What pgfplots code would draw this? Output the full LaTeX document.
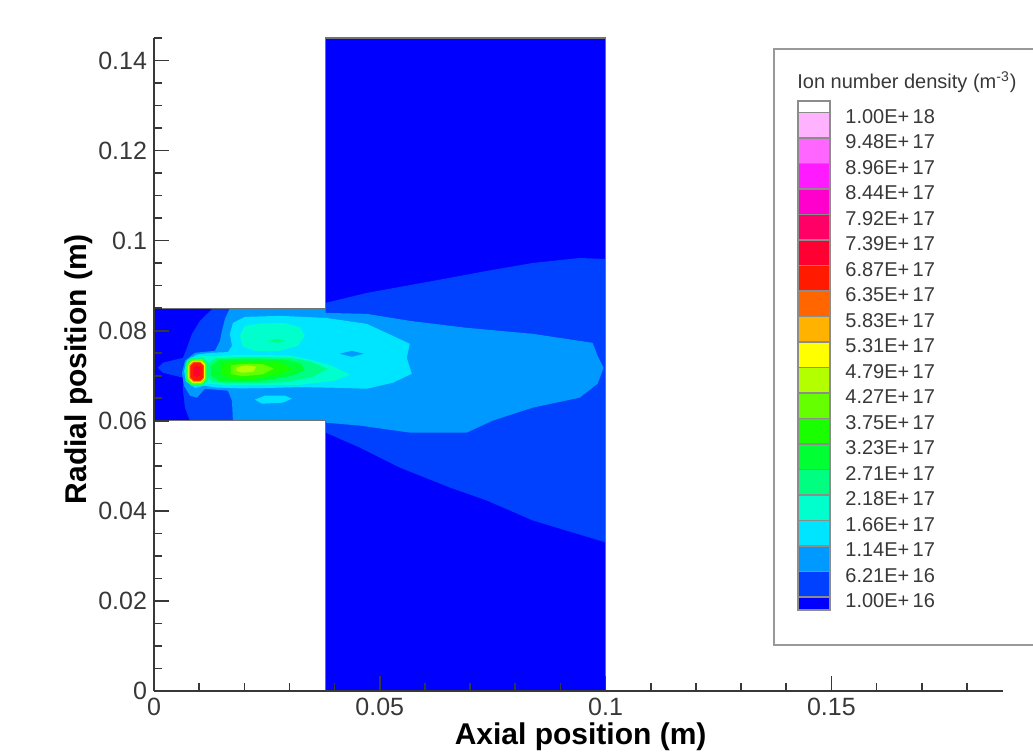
\documentclass[border=0pt]{standalone}
\usepackage{fontspec}
\setmainfont{Liberation Sans}
\usepackage{pgfplots}
\pgfplotsset{compat=1.18}
% contour level colours, low to high
\definecolor{lv0}{HTML}{0000FF}
\definecolor{lv1}{HTML}{0040FF}
\definecolor{lv2}{HTML}{0099FF}
\definecolor{lv3}{HTML}{00E5FF}
\definecolor{lv4}{HTML}{00FFCC}
\definecolor{lv5}{HTML}{00FF80}
\definecolor{lv6}{HTML}{00FF33}
\definecolor{lv7}{HTML}{1AFF00}
\definecolor{lv8}{HTML}{66FF00}
\definecolor{lv9}{HTML}{B3FF00}
\definecolor{lv10}{HTML}{FFFF00}
\definecolor{lv11}{HTML}{FFB300}
\definecolor{lv12}{HTML}{FF6600}
\definecolor{lv13}{HTML}{FF1A00}
\definecolor{lv14}{HTML}{FF0033}
\definecolor{lv15}{HTML}{FF0066}
\definecolor{lv16}{HTML}{FF00CC}
\definecolor{lv17}{HTML}{FF1AFF}
\definecolor{lv18}{HTML}{FF66FF}
\definecolor{lv19}{HTML}{FFB3FF}
\definecolor{axgray}{HTML}{383838}

\begin{document}
\begin{tikzpicture}
\begin{axis}[at={(0,0)}, anchor=south west, scale only axis,
  width=424.5pt, height=326.5pt,
  xmin=0, xmax=188, ymin=0, ymax=145,
  axis lines*=left, axis line style={axgray, line width=1pt},
  axis on top,
  xtick={0,50,100,150}, xticklabels={0,0.05,0.1,0.15},
  minor xtick={10,20,30,40,60,70,80,90,110,120,130,140,160,170,180},
  ytick={0,20,40,60,80,100,120,140},
  yticklabels={0,0.02,0.04,0.06,0.08,0.1,0.12,0.14},
  minor ytick={5,10,15,25,30,35,45,50,55,65,70,75,85,90,95,105,110,115,125,130,135,145},
  tick align=inside, major tick length=7.5pt, minor tick length=4.2pt,
  every tick/.style={axgray, line width=0.8pt},
  ticklabel style={font=\fontsize{12.5}{14}\selectfont, text=axgray},
  xlabel={Axial position (m)}, ylabel={Radial position (m)},
  xlabel style={font=\fontsize{15}{18}\selectfont\bfseries,
    at={(axis description cs:0.5025,-0.0704)}, anchor=center},
  ylabel style={font=\fontsize{15}{18}\selectfont\bfseries,
    at={(axis description cs:-0.0883,0.493)}, anchor=center},
]
% background (lowest level) over the channel and the plume region
\addplot[draw=none, fill=lv0] coordinates {(0,60)(38,60)(38,0)(100,0)(100,145)(38,145)(38,85)(0,85)} -- cycle;
% 6.21E+16
\addplot[draw=none, fill=lv1] coordinates {(13.05,85)(38,85)(38,86.18)(47.12,88.39)(61.73,91.05)(73.67,93.27)
  (83.85,95.04)(94.25,96.15)(100,95.92)(100,33.01)(91.15,35.67)(83.85,37.88)(73.67,42.31)(65.49,45.19)
  (54.42,49.62)(45.58,54.05)(38,57.38)(38,60)(7.96,60)(6.86,62.92)(6.42,66.68)(6.42,69.56)(1.99,70.67)
  (0.88,71.78)(1.99,72.89)(6.42,73.99)(7.30,76.21)(8.41,79.31)(10.18,82.19)} -- cycle;
% 1.14E+17
\addplot[draw=none, fill=lv2] coordinates {(16.81,85)(38,85)(38,83.96)(47.12,83.74)(56.64,82.19)(69.25,80.64)
  (83.85,79.31)(97.12,77.31)(98.23,74.43)(99.56,71.78)(98.23,68.23)(94.25,65.13)(83.85,62.92)(75,60.04)
  (69.25,57.38)(61.73,57.38)(56.64,57.38)(45.58,58.93)(38,59.59)(38,60)(17.48,60)(17.26,64.47)(16.37,66.68)
  (11.28,67.12)(9.51,65.13)(7.96,65.57)(6.64,67.79)(6.19,70.67)(6.86,73.33)(9.07,75.10)(13.50,75.54)
  (14.60,77.76)(15.04,79.97)(15.71,82.63)} -- cycle;
% 1.66E+17
\addplot[draw=none, fill=lv3] coordinates {(17.48,81.75)(20.13,83.07)(27.88,83.30)(38,82.85)(47.12,81.52)
  (52.88,78.86)(56.64,77.09)(55.97,73.99)(57.08,70.45)(52.88,68.45)(47.12,67.12)(39.60,67.35)(32.30,67.5)
  (25.66,67.3)(19.03,67.2)(13.50,67.4)(11.28,67.8)(9.07,67.3)(7.10,68.7)(6.66,71.11)(7.32,73.5)
  (9.51,74.7)(12.39,75.1)(16.37,75.25)(17.26,76.65)(16.81,79.31)} -- cycle;
\addplot[draw=none, fill=lv2] coordinates {(41.15,74.88)(43.81,75.54)(46.46,74.88)(43.81,74.21)} -- cycle;
\addplot[draw=none, fill=lv3] coordinates {(22.35,64.69)(24.56,65.57)(28.98,65.57)(30.53,64.91)(28.54,64.02)(23.89,63.80)} -- cycle;
% 2.18E+17
\addplot[draw=none, fill=lv4] coordinates {(19.03,78.86)(20.13,81.08)(23.45,81.6)(28.98,81.7)(32.30,80.8)
  (33.41,78.86)(31.86,76.65)(27.88,75.54)(22.35,75.54)(19.69,76.43)} -- cycle;
\addplot[draw=none, fill=lv4] coordinates {(7.52,72.22)(8.41,74.0)(10.84,74.4)(13.50,74.3)(16.81,74.55)
  (23.45,74.6)(30.09,74.5)(34.51,73.6)(38.94,72.4)(43.36,70.23)(40.04,68.9)(32.30,68.0)(23.45,67.9)
  (15.71,67.95)(12.39,68.2)(10.18,67.9)(8.19,68.7)} -- cycle;
% 2.71E+17
\addplot[draw=none, fill=lv5] coordinates {(11.73,72.5)(13.50,73.9)(17.92,74.1)(23.45,74.15)(30.09,73.99)
  (34.51,73.2)(38.50,71.56)(34.96,69.7)(28.98,68.6)(22.35,68.3)(16.81,68.3)(12.83,68.6)(11.73,70.0)} -- cycle;
\addplot[draw=none, fill=lv5] coordinates {(25.22,77.76)(27.21,78.20)(29.20,77.76)(27.21,77.31)} -- cycle;
% 3.23E+17 and up, streak downstream of the hot spot
\addplot[draw=none, fill=lv6] coordinates {(12.6,72.3)(14.5,73.6)(17.92,73.77)(23.45,73.8)(28.98,73.6)
  (32.5,72.8)(33.4,71.3)(30.5,70.0)(25.0,69.0)(19.0,68.6)(14.5,68.8)(12.6,70.0)} -- cycle;
\addplot[draw=none, fill=lv7] coordinates {(15.0,72.6)(17.92,73.2)(23.45,73.25)(28.0,72.9)(30.5,71.6)
  (27.5,70.2)(22.0,69.3)(17.0,69.3)(15.0,70.2)} -- cycle;
\addplot[draw=none, fill=lv8] coordinates {(17.0,72.3)(20.0,72.66)(24.0,72.6)(26.5,71.6)(24.0,70.3)(19.5,69.9)(17.0,70.4)} -- cycle;
\addplot[draw=none, fill=lv9] coordinates {(18.3,71.9)(20.5,72.33)(22.6,72.0)(22.0,70.9)(19.5,70.67)(18.3,71.1)} -- cycle;
% hot spot
\addplot[draw=none, fill=lv5] coordinates {(7.0,72.9)(8.2,74.1)(10.8,74.1)(11.95,72.9)(11.95,69.0)(10.8,67.8)(8.2,67.8)(7.0,69.0)} -- cycle;
\addplot[draw=none, fill=lv8] coordinates {(7.3,72.6)(8.4,73.7)(10.6,73.7)(11.6,72.6)(11.6,69.2)(10.6,68.1)(8.4,68.1)(7.3,69.2)} -- cycle;
\addplot[draw=none, fill=lv10] coordinates {(7.63,72.4)(8.6,73.33)(10.4,73.33)(11.28,72.4)(11.28,69.4)(10.4,68.45)(8.6,68.45)(7.63,69.4)} -- cycle;
\addplot[draw=none, fill=lv12] coordinates {(7.85,72.3)(8.7,73.11)(10.3,73.11)(11.06,72.3)(11.06,69.5)(10.3,68.68)(8.7,68.68)(7.85,69.5)} -- cycle;
\addplot[draw=none, fill=lv13] coordinates {(8.08,72.1)(8.8,72.9)(10.2,72.9)(10.95,72.1)(10.95,69.7)(10.2,68.9)(8.8,68.9)(8.08,69.7)} -- cycle;
\addplot[draw=none, fill=lv14] coordinates {(8.8,71.8)(9.4,72.3)(10.2,71.8)(10.2,70.2)(9.5,69.6)(8.8,70.2)} -- cycle;
% domain outline
\addplot[draw=black!55, line width=0.6pt] coordinates {(0,85)(38,85)(38,145)(100,145)(100,0)};
\addplot[draw=black!55, line width=0.6pt] coordinates {(0,60)(38,60)(38,0)};
\end{axis}
% legend, in pixel units of the reference
\begin{scope}[shift={(-77pt,345.5pt)}, x=0.5pt, y=-0.5pt]
  \draw[black!40, line width=1pt] (774,49) rectangle (1045,645);
  \node[anchor=west, inner sep=0pt, text=axgray, font=\fontsize{10}{12}\selectfont] at (797,82)
    {Ion number density (m\textsuperscript{-3})};
  \fill[white] (798,101) rectangle (830,112.5);
  \foreach \c [count=\i from 0] in {lv19,lv18,lv17,lv16,lv15,lv14,lv13,lv12,lv11,lv10,lv9,lv8,lv7,lv6,lv5,lv4,lv3,lv2,lv1}
    \fill[\c] (798,112.5+25.5*\i) rectangle (830,138+25.5*\i);
  \fill[lv0] (798,597) rectangle (830,610);
  \foreach \i in {0,...,19}
    \draw[black!45, line width=0.6pt] (798,112.5+25.5*\i) -- (830,112.5+25.5*\i);
  \draw[black!45, line width=0.8pt] (798,101) rectangle (830,610);
  \foreach \t [count=\i from 0] in {1.00E+\,18,9.48E+\,17,8.96E+\,17,8.44E+\,17,7.92E+\,17,7.39E+\,17,6.87E+\,17,
      6.35E+\,17,5.83E+\,17,5.31E+\,17,4.79E+\,17,4.27E+\,17,3.75E+\,17,3.23E+\,17,2.71E+\,17,2.18E+\,17,
      1.66E+\,17,1.14E+\,17,6.21E+\,16,1.00E+\,16}
    \node[anchor=west, inner sep=0pt, text=axgray, font=\fontsize{10}{12}\selectfont] at (845,116.5+25.5*\i) {\t};
\end{scope}
\pgfresetboundingbox
\path[use as bounding box] (-77pt,-31.5pt) rectangle (439.5pt,345.5pt);
\end{tikzpicture}
\end{document}
